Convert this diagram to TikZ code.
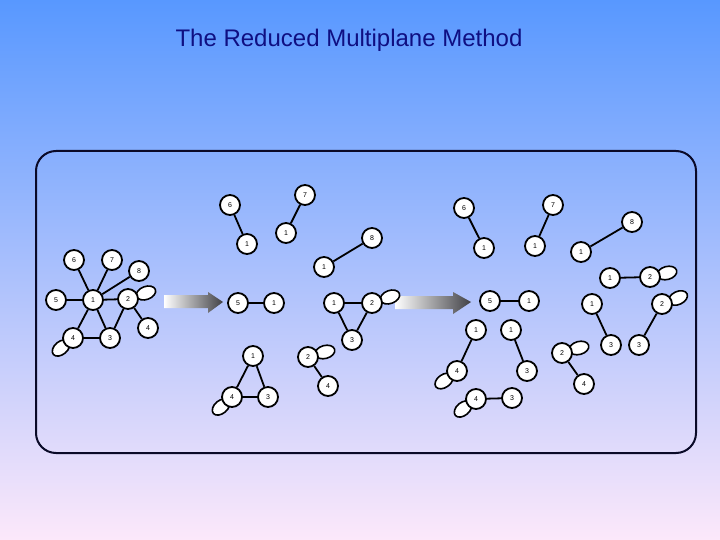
\documentclass[tikz,border=0pt]{standalone}
\usepackage{fontspec}
\setmainfont{Liberation Sans}
\definecolor{titleblue}{RGB}{15,15,130}
\definecolor{bgtop}{RGB}{88,152,255}
\definecolor{bgmid}{RGB}{150,195,248}
\definecolor{bgbot}{RGB}{252,232,250}
\definecolor{framecol}{RGB}{10,10,40}
\definecolor{arrowdark}{RGB}{65,65,70}
\begin{document}
\begin{tikzpicture}[x=1pt,y=-1pt,
  vtx/.style={circle,draw=black,fill=white,line width=1.8pt,minimum size=20pt,inner sep=0pt,font=\fontsize{7}{7}\selectfont},
  loopst/.style={draw=black,fill=white,line width=1.6pt},
  link/.style={line width=1.8pt},
  bigarrow/.style={left color=white,right color=arrowdark,draw=none}]
\useasboundingbox (0,0) rectangle (720,540);
\shade[top color=bgtop,middle color=bgmid,bottom color=bgbot] (0,0) rectangle (720,540);
\node[text=titleblue,font=\fontsize{24}{24}\selectfont] (title) at (349,40) {The Reduced Multiplane Method};
\draw[framecol,line width=2pt,rounded corners=20pt] (36,151) rectangle (696,453);

% arrows
\shade[bigarrow] (164,295) -- (208,295) -- (208,292) -- (223,302) -- (208,313) -- (208,308) -- (164,308) -- cycle;
\shade[bigarrow] (395,296) -- (453,296) -- (453,292) -- (471,302) -- (453,314) -- (453,309) -- (395,309) -- cycle;

% self-loops (drawn under the vertices)
\foreach \px/\py/\ang in {146/293/20, 61/348/40, 390/297/20, 325/352/15, 221/407/40,
                           667/273/15, 678/298/25, 579/348/15, 444/381/35, 463/409/40}
  \draw[loopst,rotate around={\ang:(\px,\py)}] (\px,\py) ellipse [x radius=10, y radius=6.5];

% ---------- left graph ----------
\node[vtx] (L6) at (74,260) {6};
\node[vtx] (L7) at (112,260) {7};
\node[vtx] (L8) at (139,271) {8};
\node[vtx] (L5) at (56,300) {5};
\node[vtx] (L1) at (93,300) {1};
\node[vtx] (L2) at (128,299) {2};
\node[vtx] (L4r) at (148,328) {4};
\node[vtx] (L4) at (73,338) {4};
\node[vtx] (L3) at (110,338) {3};
\foreach \a/\b in {L1/L6,L1/L7,L1/L8,L1/L5,L1/L2,L1/L3,L1/L4,L2/L3,L2/L4r,L4/L3}
  \draw[link] (\a) -- (\b);

% ---------- middle ----------
\node[vtx] (M6) at (230,205) {6};
\node[vtx] (M1a) at (247,244) {1};
\node[vtx] (M7) at (305,195) {7};
\node[vtx] (M1b) at (286,233) {1};
\node[vtx] (M8) at (372,238) {8};
\node[vtx] (M1c) at (324,267) {1};
\node[vtx] (M5) at (238,303) {5};
\node[vtx] (M1d) at (274,303) {1};
\node[vtx] (M1e) at (334,303) {1};
\node[vtx] (M2a) at (372,303) {2};
\node[vtx] (M3a) at (352,340) {3};
\node[vtx] (M1f) at (253,356) {1};
\node[vtx] (M4) at (232,397) {4};
\node[vtx] (M3b) at (268,397) {3};
\node[vtx] (M2b) at (308,357) {2};
\node[vtx] (M4b) at (328,386) {4};
\foreach \a/\b in {M6/M1a,M7/M1b,M8/M1c,M5/M1d,M1e/M2a,M1e/M3a,M2a/M3a,M1f/M4,M1f/M3b,M4/M3b,M2b/M4b}
  \draw[link] (\a) -- (\b);

% ---------- right ----------
\node[vtx] (R6) at (464,208) {6};
\node[vtx] (R1a) at (484,248) {1};
\node[vtx] (R7) at (553,205) {7};
\node[vtx] (R1b) at (535,246) {1};
\node[vtx] (R8) at (632,222) {8};
\node[vtx] (R1c) at (581,252) {1};
\node[vtx] (R1d) at (610,278) {1};
\node[vtx] (R2a) at (650,277) {2};
\node[vtx] (R5) at (490,301) {5};
\node[vtx] (R1e) at (529,301) {1};
\node[vtx] (R1f) at (592,304) {1};
\node[vtx] (R2b) at (662,304) {2};
\node[vtx] (R3a) at (611,345) {3};
\node[vtx] (R3b) at (639,345) {3};
\node[vtx] (R1g) at (476,330) {1};
\node[vtx] (R1h) at (511,330) {1};
\node[vtx] (R4a) at (457,371) {4};
\node[vtx] (R3c) at (527,371) {3};
\node[vtx] (R2c) at (562,353) {2};
\node[vtx] (R4b) at (584,384) {4};
\node[vtx] (R4c) at (476,399) {4};
\node[vtx] (R3d) at (512,398) {3};
\foreach \a/\b in {R6/R1a,R7/R1b,R8/R1c,R1d/R2a,R5/R1e,R1f/R3a,R2b/R3b,R1g/R4a,R1h/R3c,R2c/R4b,R4c/R3d}
  \draw[link] (\a) -- (\b);
\end{tikzpicture}
\end{document}
